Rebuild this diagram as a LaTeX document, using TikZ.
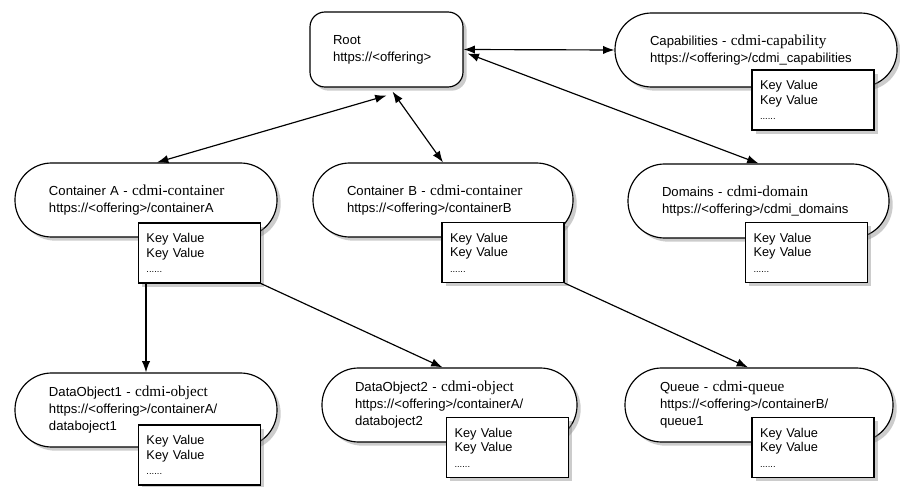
\documentclass[tikz,border=0pt]{standalone}
\usepackage{fontspec}
\setmainfont{Liberation Sans}
\newfontfamily\cdmiserif{Liberation Serif}
\newcommand\cdmitype[1]{{\cdmiserif\fontsize{13}{14.5}\selectfont #1}}
\usepackage{tikz}
\usetikzlibrary{arrows.meta, positioning, shadows}

\begin{document}
\begin{tikzpicture}[
    x=0.03cm, y=-0.03cm,
    every node/.style={
        font=\fontsize{11.2}{14.5}\selectfont
    },
    entity/.style={
        rectangle,
        draw,
        fill=white,
        line width=1pt,
        rounded corners=1.1cm,
        minimum height=2.22cm,
        inner ysep=0pt,
        align=left,
        drop shadow={shadow xshift=1.1mm, shadow yshift=-1.1mm, opacity=0.4}
    },
    keyval/.style={
        rectangle,
        draw,
        fill=white,
        line width=1pt,
        minimum width=3.66cm,
        minimum height=1.8cm,
        text width=3.18cm,
        inner xsep=0.24cm,
        align=left,
        font=\fontsize{10.9}{12.2}\selectfont,
        drop shadow={shadow xshift=1.1mm, shadow yshift=-1.1mm, opacity=0.4}
    },
    line/.style={
        -{Latex[length=3.4mm,width=2.5mm]},
        line width=1pt
    },
    twoway/.style={
        {Latex[length=3.4mm,width=2.5mm]}-{Latex[length=3.4mm,width=2.5mm]},
        line width=1pt
    }
]
\useasboundingbox (0,0) rectangle (900,487);

% top row
\node[entity, rounded corners=0.45cm, minimum height=2.25cm,
      inner xsep=0.69cm, text width=3.21cm] (root) at (386.5,49.5)
    {Root\\https://<offering>};

\node[entity, inner xsep=1.05cm, text width=6.36cm] (cap) at (756,50)
    {Capabilities - \cdmitype{cdmi-capability}\\
    https://<offering>/cdmi\_capabilities};
\node[keyval] (kvcap) at (813,100)
    {Key Value\\Key Value\\[1pt]{\fontsize{8}{9}\selectfont ......}};

% containers
\node[entity, inner xsep=1.02cm, text width=5.82cm] (conA) at (146,200)
    {Container A - \cdmitype{cdmi-container}\\
    https://<offering>/containerA};
\node[keyval] (kvA) at (199.5,253)
    {Key Value\\Key Value\\[1pt]{\fontsize{8}{9}\selectfont ......}};

\node[entity, inner xsep=1.02cm, text width=5.76cm] (conB) at (443,200)
    {Container B - \cdmitype{cdmi-container}\\
    https://<offering>/containerB};
\node[keyval] (kvB) at (503,252.5)
    {Key Value\\Key Value\\[1pt]{\fontsize{8}{9}\selectfont ......}};

\node[entity, inner xsep=1.02cm, text width=5.79cm] (dom) at (758.5,201)
    {Domains - \cdmitype{cdmi-domain}\\
    https://<offering>/cdmi\_domains};
\node[keyval] (kvdom) at (806.5,252.5)
    {Key Value\\Key Value\\[1pt]{\fontsize{8}{9}\selectfont ......}};

% objects
\node[entity, inner xsep=1.02cm, text width=5.82cm] (obj1) at (146,410)
    {DataObject1 - \cdmitype{cdmi-object}\\
    https://<offering>/containerA/\\
    databoject1};
\node[keyval] (kvobj1) at (199.5,455)
    {Key Value\\Key Value\\[1pt]{\fontsize{8}{9}\selectfont ......}};

\node[entity, inner xsep=0.99cm, text width=5.67cm] (obj2) at (449.5,405)
    {DataObject2 - \cdmitype{cdmi-object}\\
    https://<offering>/containerA/\\
    databoject2};
\node[keyval] (kvobj2) at (507.5,447.5)
    {Key Value\\Key Value\\[1pt]{\fontsize{8}{9}\selectfont ......}};

\node[entity, inner xsep=1.05cm, text width=5.94cm] (queue) at (759,405)
    {Queue - \cdmitype{cdmi-queue}\\
    https://<offering>/containerB/\\
    queue1};
\node[keyval] (kvqueue) at (813,447.5)
    {Key Value\\Key Value\\[1pt]{\fontsize{8}{9}\selectfont ......}};

% links
\draw[twoway] (root.east) -- (cap.west);
\draw[twoway] ([shift={(4,4)}]root.east) -- (dom.north);
\draw[twoway] ([xshift=0.33cm]conA.north) -- ([yshift=-0.24cm]root.south);
\draw[twoway] (conB.north) -- ([shift={(6,4)}]root.south);

\draw[line] (kvA.south -| obj1.north) -- (obj1.north);
\draw[line] (kvA.south east) -- ([xshift=-0.21cm]obj2.north);
\draw[line] (kvB.south east) -- ([xshift=-0.33cm]queue.north);

\end{tikzpicture}
\end{document}
